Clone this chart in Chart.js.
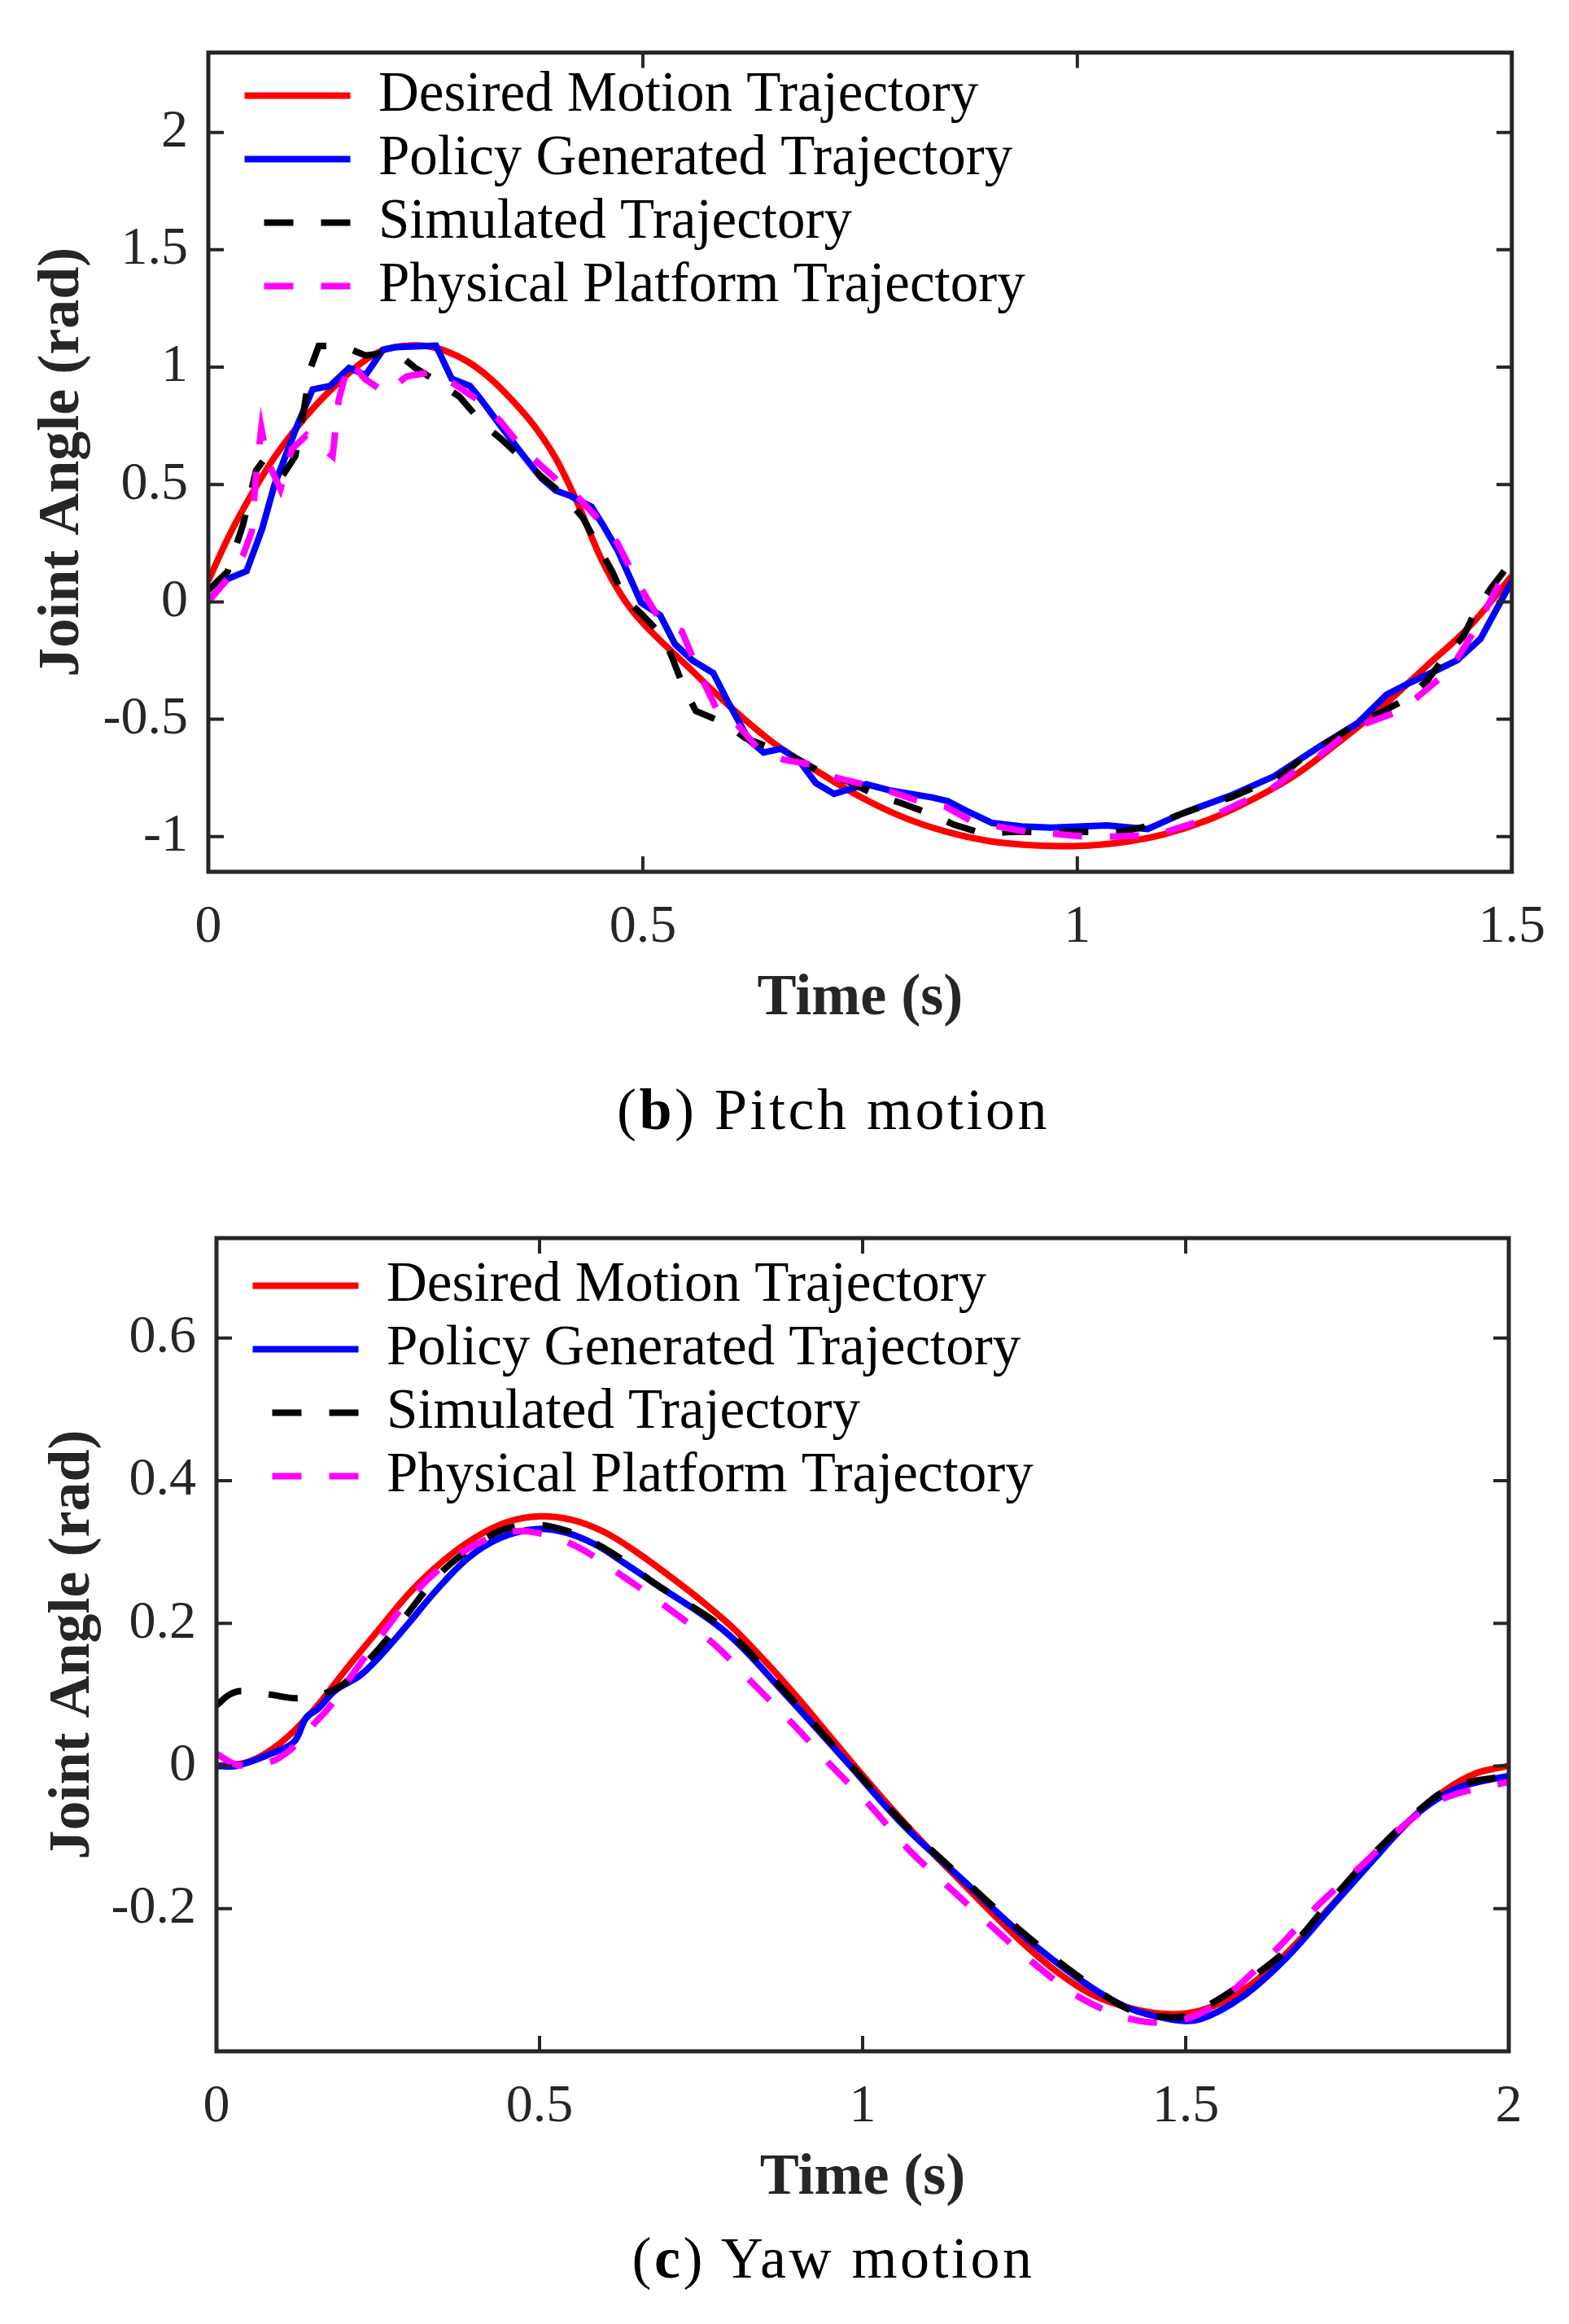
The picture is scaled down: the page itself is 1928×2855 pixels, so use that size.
<!DOCTYPE html>
<html>
<head>
<meta charset="utf-8">
<script src="https://cdn.jsdelivr.net/npm/chart.js"></script>
<style>
    body { margin: 0; background: #fff; font-family: "Liberation Serif", "Times New Roman", serif; }
    #page { position: relative; width: 1928px; height: 2855px; background: #fff; }
    .box { position: absolute; left: 0; width: 1928px; }
    .caption {
        position: absolute; left: 524px; width: 1000px; text-align: center;
        font-size: 72px; line-height: 72px; letter-spacing: 3.5px; color: #000;
        white-space: nowrap;
    }
</style>
</head>
<body>
<div id="page">
    <div class="box" style="top:0;height:1300px"><canvas id="pitchChart"></canvas></div>
    <div class="caption" style="top:1327px">(<b>b</b>) Pitch motion</div>
    <div class="box" style="top:1400px;height:1340px"><canvas id="yawChart"></canvas></div>
    <div class="caption" style="top:2738px">(<b>c</b>) Yaw motion</div>
</div>
<script>
// legend texts, shared by both panels
const seriesLabels = [
    "Desired Motion Trajectory",
    "Policy Generated Trajectory",
    "Simulated Trajectory",
    "Physical Platform Trajectory",
];

// (b) pitch: [time s, angle rad]
const pitchXTicks = [0, 0.5, 1, 1.5];
const pitchYTicks = [-1, -0.5, 0, 0.5, 1, 1.5, 2];
const pitchDesired = [
    [0, 0.09], [0.025, 0.29], [0.05, 0.46], [0.075, 0.61], [0.1, 0.735], [0.125, 0.843],
    [0.15, 0.935], [0.175, 1.015], [0.2, 1.07], [0.225, 1.09], [0.25, 1.09], [0.275, 1.066],
    [0.3, 1.02], [0.325, 0.95], [0.35, 0.858], [0.375, 0.75], [0.4, 0.61], [0.425, 0.42],
    [0.45, 0.2], [0.475, 0.03], [0.5, -0.09], [0.55, -0.27], [0.6, -0.445], [0.65, -0.6],
    [0.7, -0.72], [0.75, -0.83], [0.8, -0.918], [0.85, -0.98], [0.9, -1.02], [0.95, -1.037],
    [1.0, -1.04], [1.05, -1.025], [1.1, -0.99], [1.15, -0.93], [1.2, -0.845], [1.25, -0.74],
    [1.3, -0.6], [1.35, -0.45], [1.4, -0.28], [1.45, -0.11], [1.5, 0.11],
];
const pitchPolicy = [
    [0, 0.005], [0.022, 0.097], [0.044, 0.131], [0.062, 0.312], [0.076, 0.497], [0.103, 0.758],
    [0.12, 0.905], [0.14, 0.92], [0.162, 0.997], [0.181, 0.966], [0.201, 1.074], [0.215, 1.085],
    [0.262, 1.092], [0.28, 0.951], [0.301, 0.92], [0.313, 0.866], [0.333, 0.766], [0.36, 0.635],
    [0.383, 0.528], [0.4, 0.474], [0.417, 0.451], [0.441, 0.405], [0.454, 0.328], [0.471, 0.22],
    [0.498, -0.003], [0.52, -0.057], [0.537, -0.18], [0.557, -0.249], [0.581, -0.303],
    [0.598, -0.426], [0.622, -0.588], [0.639, -0.642], [0.659, -0.626], [0.679, -0.672],
    [0.699, -0.772], [0.72, -0.818], [0.757, -0.777], [0.784, -0.803], [0.834, -0.834],
    [0.851, -0.849], [0.875, -0.895], [0.902, -0.942], [0.936, -0.957], [0.97, -0.962],
    [1.034, -0.952], [1.081, -0.968], [1.125, -0.895], [1.176, -0.826], [1.227, -0.742],
    [1.278, -0.618], [1.322, -0.518], [1.356, -0.395], [1.38, -0.349], [1.407, -0.303],
    [1.437, -0.249], [1.464, -0.157], [1.5, 0.089],
];
const pitchSimulated = [
    [0, 0.05], [0.022, 0.128], [0.04, 0.33], [0.055, 0.56], [0.063, 0.6], [0.084, 0.53],
    [0.1, 0.62], [0.11, 0.82], [0.118, 1.0], [0.127, 1.09], [0.154, 1.09], [0.181, 1.05],
    [0.215, 1.066], [0.238, 0.997], [0.265, 0.935], [0.289, 0.874], [0.316, 0.758],
    [0.336, 0.697], [0.363, 0.605], [0.383, 0.535], [0.41, 0.451], [0.431, 0.358],
    [0.451, 0.22], [0.465, 0.128], [0.478, 0.02], [0.498, -0.05], [0.524, -0.15],
    [0.534, -0.24], [0.547, -0.365], [0.561, -0.465], [0.595, -0.518], [0.618, -0.58],
    [0.656, -0.634], [0.679, -0.672], [0.713, -0.742], [0.736, -0.765], [0.77, -0.826],
    [0.797, -0.857], [0.831, -0.903], [0.858, -0.949], [0.892, -0.988], [0.922, -0.98],
    [0.986, -0.98], [1.05, -0.98], [1.088, -0.95], [1.115, -0.91], [1.149, -0.865],
    [1.176, -0.834], [1.21, -0.78], [1.237, -0.734], [1.264, -0.649], [1.29, -0.595],
    [1.322, -0.518], [1.349, -0.472], [1.38, -0.41], [1.403, -0.334], [1.424, -0.226],
    [1.444, -0.149], [1.458, -0.04], [1.476, 0.058], [1.5, 0.174],
];
const pitchPhysical = [
    [0, 0.0], [0.022, 0.1], [0.04, 0.2], [0.05, 0.3], [0.055, 0.55], [0.061, 0.74],
    [0.068, 0.6], [0.083, 0.48], [0.096, 0.65], [0.113, 0.71], [0.133, 0.65], [0.143, 0.62],
    [0.15, 0.86], [0.162, 1.03], [0.18, 0.95], [0.204, 0.89], [0.228, 0.96], [0.258, 0.98],
    [0.282, 0.93], [0.31, 0.86], [0.336, 0.77], [0.36, 0.66], [0.38, 0.59], [0.407, 0.5],
    [0.427, 0.44], [0.454, 0.33], [0.471, 0.25], [0.49, 0.11], [0.5, 0.045], [0.52, -0.08],
    [0.545, -0.126], [0.559, -0.25], [0.571, -0.35], [0.586, -0.465], [0.608, -0.52],
    [0.635, -0.634], [0.662, -0.672], [0.696, -0.695], [0.723, -0.75], [0.757, -0.78],
    [0.787, -0.81], [0.818, -0.85], [0.848, -0.872], [0.878, -0.934], [0.909, -0.957],
    [0.943, -0.98], [0.973, -0.988], [1.007, -1.0], [1.041, -1.0], [1.075, -0.995],
    [1.102, -0.98], [1.136, -0.94], [1.163, -0.9], [1.197, -0.84], [1.224, -0.795],
    [1.254, -0.71], [1.278, -0.657], [1.308, -0.565], [1.332, -0.518], [1.366, -0.472],
    [1.39, -0.41], [1.417, -0.326], [1.437, -0.242], [1.458, -0.118], [1.471, -0.026],
    [1.488, 0.097], [1.5, 0.135],
];

// (c) yaw: [time s, angle rad]
const yawXTicks = [0, 0.5, 1, 1.5, 2];
const yawYTicks = [-0.2, 0, 0.2, 0.4, 0.6];
const yawDesired = [
    [0, 0.0], [0.05, 0.006], [0.1, 0.033], [0.15, 0.078], [0.2, 0.135], [0.25, 0.19],
    [0.3, 0.244], [0.35, 0.287], [0.4, 0.32], [0.45, 0.342], [0.5, 0.35], [0.55, 0.345],
    [0.6, 0.328], [0.65, 0.3], [0.7, 0.267], [0.75, 0.232], [0.8, 0.193], [0.85, 0.146],
    [0.9, 0.095], [0.95, 0.041], [1.0, -0.013], [1.05, -0.065], [1.1, -0.114], [1.15, -0.16],
    [1.2, -0.206], [1.25, -0.25], [1.3, -0.288], [1.35, -0.318], [1.4, -0.336], [1.45, -0.346],
    [1.5, -0.347], [1.55, -0.334], [1.6, -0.307], [1.65, -0.268], [1.7, -0.221], [1.75, -0.171],
    [1.8, -0.121], [1.85, -0.074], [1.9, -0.035], [1.95, -0.01], [2.0, 0.0],
];
const yawPolicy = [
    [0, 0.0], [0.03, 0.0], [0.084, 0.017], [0.12, 0.034], [0.139, 0.068], [0.157, 0.08],
    [0.184, 0.106], [0.221, 0.126], [0.248, 0.149], [0.29, 0.192], [0.34, 0.246],
    [0.39, 0.292], [0.44, 0.32], [0.495, 0.332], [0.541, 0.327], [0.587, 0.31],
    [0.632, 0.284], [0.678, 0.256], [0.789, 0.187], [0.88, 0.101],
    [0.972, 0.009], [1.063, -0.083], [1.154, -0.159], [1.246, -0.236], [1.337, -0.3],
    [1.408, -0.338], [1.476, -0.355], [1.522, -0.355], [1.59, -0.322], [1.659, -0.266],
    [1.728, -0.195], [1.796, -0.126], [1.842, -0.08], [1.888, -0.047], [1.933, -0.027],
    [2.0, -0.014],
];
const yawSimulated = [
    [0, 0.085], [0.02, 0.1], [0.038, 0.105], [0.084, 0.1], [0.125, 0.095], [0.171, 0.103],
    [0.198, 0.116], [0.239, 0.152], [0.29, 0.207], [0.34, 0.264], [0.381, 0.297],
    [0.44, 0.33], [0.495, 0.338], [0.541, 0.33], [0.587, 0.312], [0.632, 0.287],
    [0.678, 0.256], [0.789, 0.19], [0.88, 0.104], [0.972, 0.011],
    [1.063, -0.08], [1.154, -0.157], [1.246, -0.232], [1.337, -0.297], [1.416, -0.343],
    [1.474, -0.352], [1.5, -0.35], [1.56, -0.322], [1.659, -0.256], [1.728, -0.185],
    [1.796, -0.118], [1.888, -0.042], [1.933, -0.024], [2.0, -0.014],
];
const yawPhysical = [
    [0, 0.017], [0.034, 0.001], [0.084, 0.006], [0.116, 0.024], [0.152, 0.06], [0.175, 0.083],
    [0.207, 0.124], [0.258, 0.187], [0.312, 0.248], [0.381, 0.3], [0.449, 0.327],
    [0.495, 0.327], [0.559, 0.307], [0.632, 0.264], [0.701, 0.22], [0.771, 0.17],
    [0.83, 0.116], [0.894, 0.057], [0.953, -0.001], [1.013, -0.057], [1.072, -0.118],
    [1.136, -0.172], [1.2, -0.225], [1.264, -0.276], [1.337, -0.325], [1.417, -0.355],
    [1.485, -0.358], [1.545, -0.335], [1.636, -0.261], [1.705, -0.195], [1.773, -0.139],
    [1.842, -0.08], [1.901, -0.045], [2.0, -0.022],
];

const SERIF = "'Liberation Serif', 'Times New Roman', serif";
const AXIS_GREY = "#262626";
const DASH = [36, 34];

Chart.defaults.font.family = SERIF;

// MATLAB-like box with inward ticks on all four sides
const boxFrame = {
    id: "boxFrame",
    afterDatasetsDraw(chart) {
        const { ctx, chartArea: a, scales } = chart;
        const len = 19;
        ctx.save();
        ctx.strokeStyle = AXIS_GREY;
        ctx.lineWidth = 4;
        ctx.beginPath();
        scales.x.ticks.forEach((t) => {
            const px = scales.x.getPixelForValue(t.value);
            ctx.moveTo(px, a.bottom);
            ctx.lineTo(px, a.bottom - len);
            ctx.moveTo(px, a.top);
            ctx.lineTo(px, a.top + len);
        });
        scales.y.ticks.forEach((t) => {
            const py = scales.y.getPixelForValue(t.value);
            ctx.moveTo(a.left, py);
            ctx.lineTo(a.left + len, py);
            ctx.moveTo(a.right, py);
            ctx.lineTo(a.right - len, py);
        });
        ctx.stroke();
        ctx.lineWidth = 5;
        ctx.strokeRect(a.left, a.top, a.right - a.left, a.bottom - a.top);
        ctx.restore();
    },
};

// park the legend in the upper-left corner of the plot box
const legendSpot = {
    id: "legendSpot",
    afterLayout(chart) {
        const lg = chart.legend;
        if (!lg) return;
        const a = chart.chartArea;
        const dy = chart.options.plugins.legendSpot.top;
        lg.left = a.left + 35.5;
        lg.right = lg.left + lg.width;
        lg.top = a.top + dy;
        lg.bottom = lg.top + lg.height;
    },
};

function makeDatasets(series, smoothAll) {
    const colors = ["#ff0000", "#0000ff", "#000000", "#ff00ff"];
    const dashes = [[], [], DASH, DASH];
    return series.map((pts, i) => ({
        label: seriesLabels[i],
        data: pts.map((p) => ({ x: p[0], y: p[1] })),
        borderColor: colors[i],
        backgroundColor: colors[i],
        borderWidth: 8,
        borderDash: dashes[i],
        borderCapStyle: "butt",
        pointRadius: 0,
        tension: smoothAll || i === 0 ? 0.35 : 0,
        fill: false,
        order: 4 - i,
    }));
}

function buildChart(id, cfg) {
    const canvas = document.getElementById(id);
    if (!canvas) return;

    new Chart(canvas.getContext("2d"), {
        type: "line",
        data: { datasets: makeDatasets(cfg.series, cfg.smoothAll) },
        options: {
            responsive: true,
            maintainAspectRatio: false,
            devicePixelRatio: 1,
            animation: false,
            events: [],
            layout: { padding: cfg.padding },
            scales: {
                x: {
                    type: "linear",
                    min: cfg.xMin,
                    max: cfg.xMax,
                    afterBuildTicks: (s) => {
                        s.ticks = cfg.xTicks.map((v) => ({ value: v }));
                    },
                    afterFit: (s) => {
                        s.height = 200;
                    },
                    grid: { display: false, drawTicks: false },
                    border: { display: false },
                    ticks: {
                        padding: 29,
                        maxRotation: 0,
                        color: AXIS_GREY,
                        font: { size: 66 },
                        callback: (v) => String(v),
                    },
                    title: {
                        display: true,
                        text: "Time (s)",
                        color: AXIS_GREY,
                        padding: { top: 0, bottom: 0 },
                        font: { size: 72, weight: "bold", lineHeight: 1.2 },
                    },
                },
                y: {
                    type: "linear",
                    min: cfg.yMin,
                    max: cfg.yMax,
                    afterBuildTicks: (s) => {
                        s.ticks = cfg.yTicks.map((v) => ({ value: v }));
                    },
                    afterFit: (s) => {
                        s.width = cfg.yWidth;
                    },
                    grid: { display: false, drawTicks: false },
                    border: { display: false },
                    ticks: {
                        padding: 25,
                        color: AXIS_GREY,
                        font: { size: 66 },
                        callback: (v) => String(v),
                    },
                    title: {
                        display: true,
                        text: "Joint Angle (rad)",
                        color: AXIS_GREY,
                        padding: { top: cfg.yTitlePad, bottom: 0 },
                        font: { size: 72, weight: "bold", lineHeight: 1.2 },
                    },
                },
            },
            plugins: {
                legendSpot: { top: cfg.legendTop },
                tooltip: { enabled: false },
                legend: {
                    position: "chartArea",
                    align: "start",
                    labels: {
                        usePointStyle: true,
                        pointStyle: "line",
                        pointStyleWidth: 130,
                        padding: 9,
                        color: "#000",
                        font: { size: 69 },
                        generateLabels: (chart) =>
                            chart.data.datasets.map((ds, i) => ({
                                text: ds.label,
                                fillStyle: ds.borderColor,
                                strokeStyle: ds.borderColor,
                                fontColor: "#000",
                                lineWidth: ds.borderWidth,
                                lineDash: ds.borderDash,
                                lineDashOffset: ds.borderDash.length ? 46 : 0,
                                lineCap: "butt",
                                pointStyle: "line",
                                hidden: false,
                                datasetIndex: i,
                            })),
                    },
                },
            },
        },
        plugins: [boxFrame, legendSpot],
    });
}

document.addEventListener("DOMContentLoaded", function () {
    buildChart("pitchChart", {
        series: [pitchDesired, pitchPolicy, pitchSimulated, pitchPhysical],
        smoothAll: false,
        xMin: 0,
        xMax: 1.5,
        yMin: -1.15,
        yMax: 2.34,
        xTicks: pitchXTicks,
        yTicks: pitchYTicks,
        yWidth: 256,
        yTitlePad: 34,
        legendTop: 9.5,
        padding: { top: 60, right: 60, bottom: 29, left: 0 },
    });

    buildChart("yawChart", {
        series: [yawDesired, yawPolicy, yawSimulated, yawPhysical],
        smoothAll: true,
        xMin: 0,
        xMax: 2,
        yMin: -0.4,
        yMax: 0.74,
        xTicks: yawXTicks,
        yTicks: yawYTicks,
        yWidth: 266,
        yTitlePad: 47,
        legendTop: 15,
        padding: { top: 121, right: 74, bottom: 20, left: 0 },
    });
});
</script>
</body>
</html>
